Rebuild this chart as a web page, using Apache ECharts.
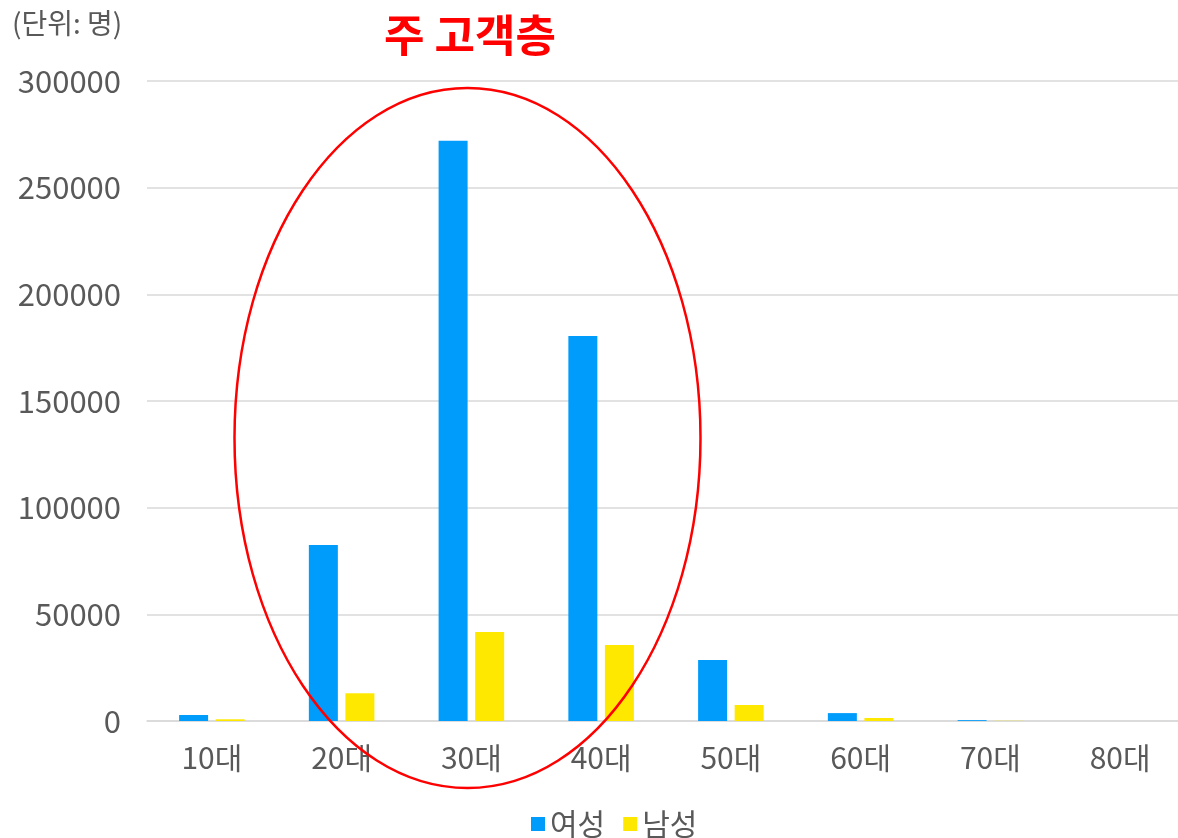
<!DOCTYPE html>
<html>
<head>
<meta charset="utf-8">
<title>연령대별 고객</title>
<script src="https://cdn.jsdelivr.net/npm/echarts@6/dist/echarts.min.js"></script>
<style>
    html, body { margin: 0; padding: 0; background: #fff; }
    #main { width: 1178px; height: 838px; }
</style>
</head>
<body>
<div id="main"></div>
<script>
// 연령대, 성별 고객 수 (단위: 명)
var ageGroups = ['10대', '20대', '30대', '40대', '50대', '60대', '70대', '80대'];
var femaleData = [2800, 82500, 272000, 180500, 28600, 3700, 400, 0];
var maleData = [800, 13000, 41700, 35600, 7500, 1400, 100, 0];
var yTicks = [0, 50000, 100000, 150000, 200000, 250000, 300000];

var FONT = '"Noto Sans CJK KR", "Noto Sans", sans-serif';
var GREY = '#595959';

function drawChart(eleId) {
    var myChart = echarts.init(document.getElementById(eleId));

    var option = {
        animation: false,
        textStyle: { fontFamily: FONT },
        title: {
            text: '주 고객층',
            left: 379,
            top: 8,
            textStyle: {
                color: '#FF0000',
                fontSize: 44,
                fontWeight: 'bold',
                fontFamily: FONT
            }
        },
        legend: {
            left: 526,
            top: 804,
            icon: 'rect',
            itemWidth: 14,
            itemHeight: 14,
            itemGap: 18,
            textStyle: { color: GREY, fontSize: 30, fontFamily: FONT },
            data: ['여성', '남성']
        },
        grid: {
            left: 147,
            width: 1038,
            top: 81,
            bottom: 117,
            containLabel: false,
            outerBoundsMode: 'none'
        },
        xAxis: {
            type: 'category',
            data: ageGroups,
            axisLine: { show: true, lineStyle: { color: '#D9D9D9', width: 1.5 } },
            axisTick: { show: false },
            axisLabel: { color: GREY, fontSize: 30, margin: 22, fontFamily: FONT }
        },
        yAxis: {
            type: 'value',
            min: yTicks[0],
            max: yTicks[yTicks.length - 1],
            interval: yTicks[1] - yTicks[0],
            axisLine: { show: false },
            axisTick: { show: false },
            splitLine: { lineStyle: { color: '#D9D9D9', width: 1.5 } },
            axisLabel: {
                color: GREY,
                fontSize: 31,
                margin: 26,
                fontFamily: FONT,
                formatter: function (v) { return String(v); }
            }
        },
        series: [
            {
                name: '여성',
                type: 'bar',
                barWidth: 29,
                barGap: '26%',
                itemStyle: { color: '#009CFB' },
                data: femaleData
            },
            {
                name: '남성',
                type: 'bar',
                barWidth: 29,
                barGap: '26%',
                itemStyle: { color: '#FFE800' },
                data: maleData
            }
        ],
        graphic: [
            {
                type: 'text',
                left: 12,
                top: 9,
                style: {
                    text: '(단위: 명)',
                    fill: GREY,
                    fontSize: 28,
                    fontFamily: FONT
                }
            },
            {
                // 주 고객층 강조 타원
                type: 'ellipse',
                shape: { cx: 467.5, cy: 438, rx: 233, ry: 350 },
                style: { fill: 'none', stroke: '#FF0000', lineWidth: 2.5 },
                z: 100
            }
        ]
    };

    myChart.setOption(option);
}

drawChart('main');
</script>
</body>
</html>
